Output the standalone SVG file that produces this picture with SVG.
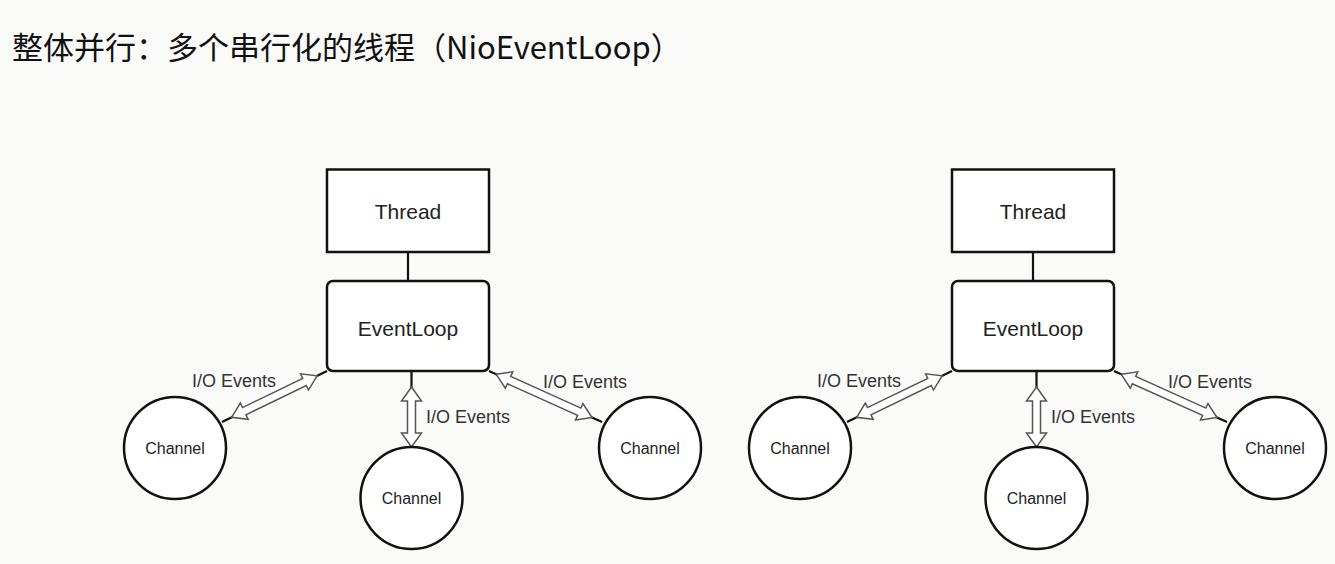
<svg xmlns="http://www.w3.org/2000/svg" width="1335" height="564" viewBox="0 0 1335 564">
<style>
.box{fill:#fff;stroke:#111;stroke-width:2.5}
.ch{fill:#fff;stroke:#111;stroke-width:2.5}
.ln{stroke:#111;stroke-width:2.2;fill:none}
.ar{fill:#fff;stroke:#555;stroke-width:1.5;stroke-linejoin:miter}
.t{font-family:"Liberation Sans",Arial,sans-serif;fill:#222;text-anchor:middle}
.big{font-size:21px}
.sm{font-size:16px}
.lb{font-family:"Liberation Sans",Arial,sans-serif;fill:#333;font-size:18px}
.title{font-family:"Noto Sans CJK SC","Noto Sans",sans-serif;font-size:31px;fill:#111}
</style>
<rect x="0" y="0" width="1335" height="564" fill="#fafaf9"/>
<text class="title" x="12" y="59">整体并行：多个串行化的线程（NioEventLoop）</text>

<g id="diagram-left">
  <g id="connectors-left">
    <line class="ln" x1="408" y1="252" x2="408" y2="281"/>
    <line class="ln" x1="327" y1="371" x2="222" y2="422"/>
    <line class="ln" x1="411.5" y1="371" x2="411.5" y2="447"/>
    <line class="ln" x1="489" y1="371" x2="602" y2="422"/>
    <polygon class="ar" transform="translate(327,371) rotate(154.1)" points="11,0 25,-9 25,-4 92,-4 92,-9 106,0 92,9 92,4 25,4 25,9"/>
    <polygon class="ar" transform="translate(411.5,371) rotate(90)" points="16,0 30,-10 30,-4 62,-4 62,-10 76,0 62,10 62,4 30,4 30,10"/>
    <polygon class="ar" transform="translate(489,371) rotate(24.3)" points="8,0 22,-9 22,-4 99,-4 99,-9 113,0 99,9 99,4 22,4 22,9"/>
    <text class="lb" x="192" y="387">I/O Events</text>
    <text class="lb" x="426" y="423">I/O Events</text>
    <text class="lb" x="543" y="388">I/O Events</text>
  </g>
  <g id="thread-left"><rect class="box" x="327" y="169.5" width="162" height="82.5"/><text class="t big" x="408" y="219">Thread</text></g>
  <g id="eventloop-left"><rect class="box" x="327" y="281" width="162" height="90" rx="6"/><text class="t big" x="408" y="335.5">EventLoop</text></g>
  <g id="channel-left-1"><circle class="ch" cx="175" cy="448" r="51"/><text class="t sm" x="175" y="454">Channel</text></g>
  <g id="channel-left-2"><circle class="ch" cx="411.5" cy="498" r="51"/><text class="t sm" x="411.5" y="504">Channel</text></g>
  <g id="channel-left-3"><circle class="ch" cx="650" cy="448" r="51"/><text class="t sm" x="650" y="454">Channel</text></g>
</g>

<g id="diagram-right" transform="translate(625,0)">
  <g id="connectors-right">
    <line class="ln" x1="408" y1="252" x2="408" y2="281"/>
    <line class="ln" x1="327" y1="371" x2="222" y2="422"/>
    <line class="ln" x1="411.5" y1="371" x2="411.5" y2="447"/>
    <line class="ln" x1="489" y1="371" x2="602" y2="422"/>
    <polygon class="ar" transform="translate(327,371) rotate(154.1)" points="11,0 25,-9 25,-4 92,-4 92,-9 106,0 92,9 92,4 25,4 25,9"/>
    <polygon class="ar" transform="translate(411.5,371) rotate(90)" points="16,0 30,-10 30,-4 62,-4 62,-10 76,0 62,10 62,4 30,4 30,10"/>
    <polygon class="ar" transform="translate(489,371) rotate(24.3)" points="8,0 22,-9 22,-4 99,-4 99,-9 113,0 99,9 99,4 22,4 22,9"/>
    <text class="lb" x="192" y="387">I/O Events</text>
    <text class="lb" x="426" y="423">I/O Events</text>
    <text class="lb" x="543" y="388">I/O Events</text>
  </g>
  <g id="thread-right"><rect class="box" x="327" y="169.5" width="162" height="82.5"/><text class="t big" x="408" y="219">Thread</text></g>
  <g id="eventloop-right"><rect class="box" x="327" y="281" width="162" height="90" rx="6"/><text class="t big" x="408" y="335.5">EventLoop</text></g>
  <g id="channel-right-1"><circle class="ch" cx="175" cy="448" r="51"/><text class="t sm" x="175" y="454">Channel</text></g>
  <g id="channel-right-2"><circle class="ch" cx="411.5" cy="498" r="51"/><text class="t sm" x="411.5" y="504">Channel</text></g>
  <g id="channel-right-3"><circle class="ch" cx="650" cy="448" r="51"/><text class="t sm" x="650" y="454">Channel</text></g>
</g>
</svg>
